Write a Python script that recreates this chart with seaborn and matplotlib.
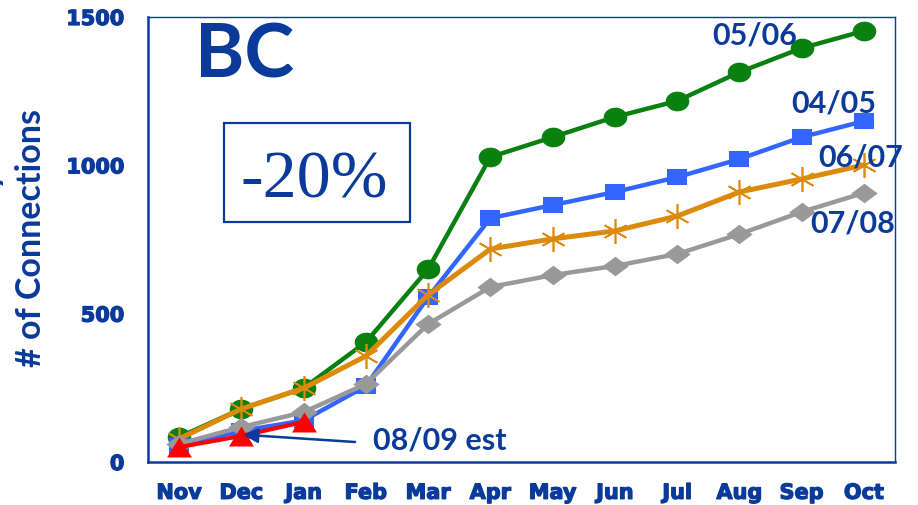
import numpy as np
import seaborn as sns
import matplotlib.pyplot as plt
import matplotlib.patheffects as pe
from matplotlib.patches import Rectangle
from matplotlib.markers import MarkerStyle
from matplotlib.ticker import FixedLocator

# data (cumulative connections per season)
months = ["Nov", "Dec", "Jan", "Feb", "Mar", "Apr", "May", "Jun", "Jul", "Aug", "Sep", "Oct"]
conn_0405 = [55, 105, 140, 256, 556, 822, 866, 910, 960, 1021, 1095, 1149]
conn_0506 = [84, 179, 249, 404, 650, 1028, 1095, 1163, 1217, 1314, 1395, 1453]
conn_0607 = [78, 179, 249, 357, 563, 718, 752, 779, 829, 910, 954, 1001]
conn_0708 = [61, 118, 168, 263, 465, 590, 630, 661, 701, 768, 843, 907]
conn_0809_est = [50, 88, 135]

NAVY = "#0a3a9a"
W, H = 918, 506

sns.set_style("white")
plt.rcParams['font.family'] = ['Lato', 'DejaVu Sans']

fig = plt.figure(figsize=(W / 100, H / 100), dpi=100)
ax = fig.add_axes([148 / W, 1 - 463 / H, (895 - 148) / W, (463 - 18) / H])


def px(x, y):
    # pixel position (from top-left) -> figure fraction
    return x / W, 1 - y / H


# stretched marker shapes (the original chart was squeezed vertically)
t = np.linspace(0, 2 * np.pi, 60)
ellipse = np.column_stack([1.2 * np.cos(t), np.sin(t)])
square = np.array([[-1.33, -1], [1.33, -1], [1.33, 1], [-1.33, 1], [-1.33, -1]])
diamond = np.array([[-1.35, 0], [0, 1], [1.35, 0], [0, -1], [-1.35, 0]])
triangle = np.array([[-1, -0.8], [1, -0.8], [0, 0.8], [-1, -0.8]])

x_all = np.arange(len(months))

# green 05/06
sns.lineplot(x=x_all, y=conn_0506, ax=ax, color="#0a8010", lw=3.2, marker=ellipse,
             markersize=17, markeredgewidth=0, zorder=2, legend=False)
# blue 04/05
sns.lineplot(x=x_all, y=conn_0405, ax=ax, color="#3366ff", lw=3.2, marker=square,
             markersize=14.5, markeredgewidth=0, zorder=3, legend=False)
# orange 06/07
sns.lineplot(x=x_all, y=conn_0607, ax=ax, color="#dc8a0c", lw=3.6, marker=MarkerStyle((6, 2, 0)),
             markersize=18, markeredgewidth=1.2, markeredgecolor="#dc8a0c", zorder=4, legend=False)
# grey 07/08
sns.lineplot(x=x_all, y=conn_0708, ax=ax, color="#999999", lw=3.2, marker=diamond,
             markersize=19, markeredgewidth=0, zorder=5, legend=False)
# red 08/09 estimate
sns.lineplot(x=x_all[:len(conn_0809_est)], y=conn_0809_est, ax=ax, color="#ff0000", lw=3,
             marker=triangle, markersize=18, markeredgewidth=0, zorder=6, legend=False)

ax.set_xlim(-0.5, 11.5)
ax.set_ylim(0, 1500)
ax.set_xticks(x_all)
ax.set_xticklabels(months)
ax.xaxis.set_minor_locator(FixedLocator(np.arange(-0.5, 12, 1)))
ax.set_yticks([0, 500, 1000, 1500])
ax.set_xlabel("")
ax.set_ylabel("")

heavy = [pe.withStroke(linewidth=0.9, foreground=NAVY)]
for lab in ax.get_xticklabels() + ax.get_yticklabels():
    lab.set_fontfamily("DejaVu Sans")
    lab.set_fontweight("bold")
    lab.set_fontsize(15)
    lab.set_color(NAVY)
    lab.set_path_effects(heavy)
ax.tick_params(axis="both", which="both", direction="out", color=NAVY, width=1.5)
ax.tick_params(axis="y", length=7, pad=10)
ax.tick_params(axis="x", which="both", length=5, pad=10)

for side in ["left", "bottom"]:
    ax.spines[side].set_color(NAVY)
    ax.spines[side].set_linewidth(1.8)
for side in ["top", "right"]:
    ax.spines[side].set_color(NAVY)
    ax.spines[side].set_linewidth(1)

# series labels
series_labels = [("05/06", 755, 45), ("04/05", 834, 113), ("06/07", 861, 167), ("07/08", 853, 232)]
for text, lx, ly in series_labels:
    fig.text(*px(lx, ly), text, ha="center", va="baseline", fontsize=22,
             fontweight="bold", color=NAVY, zorder=10)

fig.text(*px(245, 77), "BC", ha="center", va="baseline", fontsize=54,
         fontweight="bold", color=NAVY)

# -20% box
box = Rectangle(px(224, 223), 186 / W, 99 / H, transform=fig.transFigure,
                fill=False, edgecolor=NAVY, linewidth=1.6)
fig.add_artist(box)
fig.text(*px(314, 198), "-20%", ha="center", va="baseline", fontsize=49,
         family="Liberation Serif", color=NAVY)

# 08/09 est annotation
fig.text(*px(373, 450), "08/09 est", ha="left", va="baseline", fontsize=22,
         fontweight="bold", color=NAVY)
ax.annotate("", xy=(1.03, 92), xycoords="data", xytext=(355, H - 443),
            textcoords="figure pixels",
            arrowprops=dict(arrowstyle="-|>", color=NAVY, lw=1.8, mutation_scale=22,
                            shrinkA=0, shrinkB=0), zorder=10)

# y axis title (first line falls off the left edge)
fig.text(*px(31, 238), "# of Connections", rotation=90, ha="center", va="center",
         fontsize=24.5, fontweight="bold", color=NAVY)
fig.text(*px(-5, 168), "Monthly", rotation=90, rotation_mode="anchor", ha="right",
         va="baseline", fontsize=24.5, fontweight="bold", color=NAVY)

fig.savefig("out.png", dpi=100)
